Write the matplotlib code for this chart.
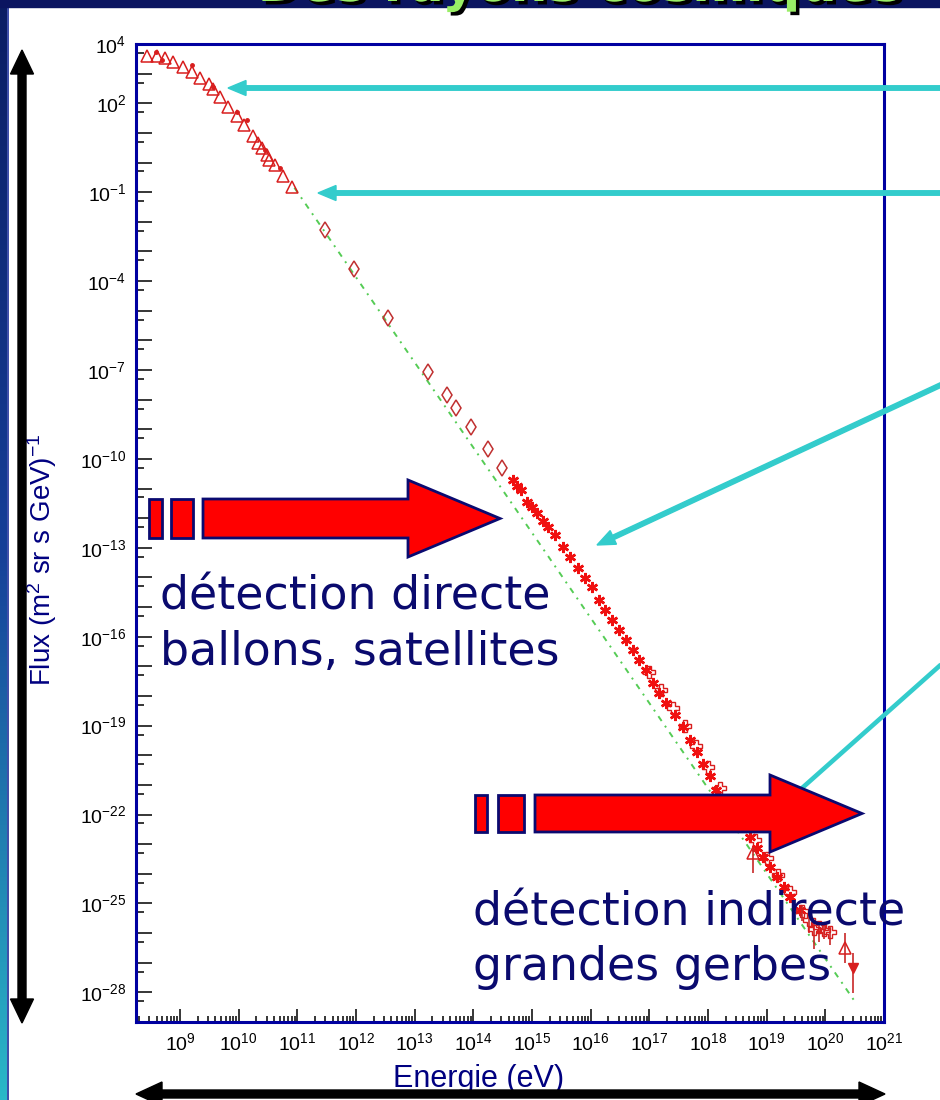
import numpy as np
import matplotlib
matplotlib.use('Agg')
import matplotlib.pyplot as plt
from matplotlib.patches import Polygon, Rectangle
from matplotlib.colors import LinearSegmentedColormap
from matplotlib.ticker import FixedLocator, FuncFormatter, NullFormatter
from matplotlib import patheffects

plt.rcParams['font.family'] = ['Liberation Sans', 'DejaVu Sans']
plt.rcParams['mathtext.fontset'] = 'custom'
plt.rcParams['mathtext.rm'] = 'Liberation Sans'
plt.rcParams['mathtext.it'] = 'Liberation Sans:italic'

# ---- data (log10 values) ----
tri_logE = [8.44, 8.61, 8.75, 8.88, 9.05, 9.21, 9.34, 9.50, 9.57, 9.68, 9.82,
            9.97, 10.09, 10.25, 10.33, 10.40, 10.48, 10.52, 10.62, 10.76, 10.91]
tri_logF = [3.60, 3.60, 3.53, 3.39, 3.22, 3.06, 2.85, 2.65, 2.48, 2.21, 1.87,
            1.57, 1.27, 0.90, 0.66, 0.49, 0.26, 0.09, -0.08, -0.45, -0.82]

dot_logE = [8.59, 8.69, 9.20, 9.56, 9.97, 10.14, 10.45, 10.70]
dot_logF = [3.73, 3.46, 3.29, 2.55, 1.71, 1.44, 0.42, -0.18]

dia_logE = [11.47, 11.96, 12.54, 13.22, 13.55, 13.70, 13.96, 14.25, 14.49]
dia_logF = [-2.28, -3.59, -5.24, -7.07, -7.84, -8.28, -8.92, -9.66, -10.30]

star_logE = [14.67, 14.74, 14.82, 14.91, 15.00, 15.08, 15.18, 15.27, 15.39, 15.52,
             15.64, 15.78, 15.90, 16.02, 16.15, 16.25, 16.36, 16.49, 16.61, 16.72,
             16.83, 16.95, 17.06, 17.17, 17.29, 17.43, 17.57, 17.69, 17.81, 17.92,
             18.03, 18.14, 18.28, 18.42, 18.57, 18.71, 18.83, 18.93, 19.05, 19.17,
             19.29, 19.39, 19.56]
star_logF = [-10.71, -10.91, -11.05, -11.45, -11.62, -11.82, -12.09, -12.30, -12.57, -12.97,
             -13.31, -13.68, -14.02, -14.32, -14.76, -15.10, -15.43, -15.77, -16.11, -16.45,
             -16.78, -17.12, -17.56, -17.90, -18.23, -18.64, -19.04, -19.48, -19.89, -20.29,
             -20.70, -21.17, -21.51, -21.91, -22.38, -22.75, -23.13, -23.43, -23.77, -24.10,
             -24.44, -24.78, -25.22]

cross_logE = [17.0, 17.2, 17.4, 17.6, 17.8, 18.0, 18.2, 18.4, 18.6, 18.8, 19.0, 19.2, 19.4]
cross_logF = [-17.2, -17.8, -18.4, -19.0, -19.7, -20.4, -21.1, -21.7, -22.3, -22.85,
              -23.45, -24.05, -24.6]

hi_logE = [19.60, 19.72, 19.80, 19.90, 19.98, 20.08]
hi_logF = [-25.25, -25.55, -25.85, -25.80, -25.90, -25.95]
hi_lo = [-25.6, -26.0, -26.55, -26.3, -26.2, -26.4]
hi_up = [-25.05, -25.35, -25.6, -25.6, -25.75, -25.8]

trihi_logE = [18.76, 20.33]
trihi_logF = [-23.29, -26.50]
trihi_lo = [-23.97, -27.0]
trihi_up = [-23.1, -25.99]

last_logE = [20.48]
last_logF = [-27.17]
last_lo = [-28.02]
last_up = [-26.67]

fit_logE = [10.95, 20.50]
fit_logF = [-0.85, -28.3]

ylab_exp = [4, 2, -1, -4, -7, -10, -13, -16, -19, -22, -25, -28]
xlab_exp = list(range(9, 22))

W, H = 940, 1100
NAVY = '#0a0a6e'
FRAME = '#0000a0'
RED = '#d81e1e'

fig = plt.figure(figsize=(W / 100, H / 100), dpi=100)
fig.patch.set_facecolor('white')

ax = fig.add_axes([136 / W, 78 / H, 748 / W, 978 / H])
ax.set_xscale('log')
ax.set_yscale('log')
ax.set_xlim(10 ** 8.25, 1e21)
ax.set_ylim(1e-29, 1e4)


def tolin(v):
    return 10 ** np.array(v, dtype=float)


def errs(f, lo, up):
    F = tolin(f)
    return [F - tolin(lo), tolin(up) - F]


ax.plot(tolin(fit_logE), tolin(fit_logF), color='#55cc55', lw=1.4,
        dashes=(3, 3, 1, 3), zorder=1)
ax.plot(tolin(tri_logE), tolin(tri_logF), ls='none', marker='^', mfc='none',
        mec=RED, ms=8, mew=1.1, zorder=3)
ax.plot(tolin(dot_logE), tolin(dot_logF), ls='none', marker='o', color=RED, ms=2.5, zorder=3)
ax.plot(tolin(dia_logE), tolin(dia_logF), ls='none', marker='d', mfc='none',
        mec='#c03030', ms=8, mew=1.1, zorder=3)
ax.plot(tolin(cross_logE), tolin(cross_logF), ls='none', marker='P', mfc='none',
        mec=RED, ms=8, mew=1.0, zorder=3)
ax.plot(tolin(star_logE), tolin(star_logF), ls='none', marker=(6, 2, 0),
        color='#f01010', ms=8, mew=1.8, zorder=4)
ax.errorbar(tolin(hi_logE), tolin(hi_logF), yerr=errs(hi_logF, hi_lo, hi_up),
            ls='none', marker='P', mfc='none', mec=RED, ms=8, mew=1.0,
            ecolor='#c82828', elinewidth=1.2, capsize=0, zorder=4)
ax.errorbar(tolin(trihi_logE), tolin(trihi_logF), yerr=errs(trihi_logF, trihi_lo, trihi_up),
            ls='none', marker='^', mfc='none', mec=RED, ms=8, mew=1.1,
            ecolor='#c82828', elinewidth=1.2, capsize=0, zorder=4)
ax.errorbar(tolin(last_logE), tolin(last_logF), yerr=errs(last_logF, last_lo, last_up),
            ls='none', marker='v', color=RED, ms=7,
            ecolor='#c82828', elinewidth=1.2, capsize=0, zorder=4)

# ticks, ROOT like
ax.yaxis.set_major_locator(FixedLocator(10.0 ** np.arange(-29, 5)))
ax.yaxis.set_minor_locator(FixedLocator(5 * 10.0 ** np.arange(-29, 4)))
ax.yaxis.set_major_formatter(FuncFormatter(
    lambda v, p: r'$10^{%d}$' % round(np.log10(v)) if round(np.log10(v)) in ylab_exp else ''))
ax.yaxis.set_minor_formatter(NullFormatter())
ax.xaxis.set_major_locator(FixedLocator(10.0 ** np.arange(8, 22)))
ax.xaxis.set_minor_locator(FixedLocator([m * 10.0 ** k for k in range(8, 21) for m in range(2, 10)]))
ax.xaxis.set_major_formatter(FuncFormatter(
    lambda v, p: r'$10^{%d}$' % round(np.log10(v)) if round(np.log10(v)) in xlab_exp else ''))
ax.xaxis.set_minor_formatter(NullFormatter())
ax.tick_params(which='both', direction='in', top=False, right=False, width=1.1,
               color='black', labelsize=14, labelcolor='black')
ax.tick_params(axis='y', which='major', length=11.5, pad=7)
ax.tick_params(axis='y', which='minor', length=5.8)
ax.tick_params(axis='x', which='major', length=9.4, pad=7)
ax.tick_params(axis='x', which='minor', length=4.3)
for s in ax.spines.values():
    s.set_color(FRAME)
    s.set_linewidth(2.2)

fig.text(479 / W, 1 - 1087 / H, 'Energie (eV)', color='#000080', fontsize=22,
         ha='center', va='baseline')
fig.text(42 / W, 1 - 560 / H, r'Flux (m$^2$ sr s GeV)$^{-1}$', color='#000080',
         fontsize=20, rotation=90, ha='center', va='center')

# ---- slide decorations in pixel coordinates ----
ov = fig.add_axes([0, 0, 1, 1], zorder=10)
ov.patch.set_alpha(0)
strip = LinearSegmentedColormap.from_list('strip', ['#0b1d63', '#163f98', '#2ab8c8'])
ov.imshow(np.linspace(0, 1, 256).reshape(-1, 1), extent=(0, 7, 1100, 0), cmap=strip,
          aspect='auto', zorder=1)
ov.set_xlim(0, W)
ov.set_ylim(H, 0)
ov.axis('off')
ov.plot([7.5, 7.5], [0, H], color='#1a2e9a', lw=1.2, zorder=2)
ov.add_patch(Rectangle((0, 0), W, 7, color='#0b1560', zorder=2))

# slide title, mostly above the visible area
ov.text(580, 1, 'Des rayons cosmiques', ha='center', va='baseline', fontsize=37,
        fontweight='bold', family='DejaVu Sans', color='#99ee66', zorder=3,
        path_effects=[patheffects.withSimplePatchShadow(offset=(2.5, -2.5),
                                                         shadow_rgbFace='black', alpha=1)])


def block_arrow(x0, y0, x1, y1, shaft, head_w, head_l, both=False):
    p0 = np.array([x0, y0], float)
    p1 = np.array([x1, y1], float)
    u = (p1 - p0) / np.hypot(*(p1 - p0))
    n = np.array([-u[1], u[0]])
    b1 = p1 - u * head_l
    pts = []
    if both:
        b0 = p0 + u * head_l
        pts += [p0, b0 + n * head_w / 2, b0 + n * shaft / 2]
    else:
        pts += [p0 + n * shaft / 2]
    pts += [b1 + n * shaft / 2, b1 + n * head_w / 2, p1, b1 - n * head_w / 2, b1 - n * shaft / 2]
    if both:
        pts += [b0 - n * shaft / 2, b0 - n * head_w / 2]
    else:
        pts += [p0 - n * shaft / 2]
    return np.array(pts)


# black double arrows
ov.add_patch(Polygon(block_arrow(22, 50, 22, 1023, 8, 23, 24, both=True), color='black', zorder=4))
ov.add_patch(Polygon(block_arrow(136, 1094, 885, 1094, 8, 24, 26, both=True), color='black', zorder=4))

# cyan pointers
CYAN = '#33cccc'
for (xa, ya, xb, yb) in [(945, 88, 228, 88), (945, 193, 318, 193), (945, 383, 597, 545)]:
    ov.add_patch(Polygon(block_arrow(xa, ya, xb, yb, 4.5, 15, 18), color=CYAN, zorder=5))
ov.plot([945, 792], [661, 797], color=CYAN, lw=3.3, solid_capstyle='butt', zorder=5)

# red block arrows
for (x0, x1, yc, sh) in [(203, 500, 518.5, 39), (535, 862, 813.5, 37)]:
    ov.add_patch(Polygon(block_arrow(x0, yc, x1, yc, sh, 77, 92), facecolor='#ff0000',
                         edgecolor='#0a0a70', lw=2, joinstyle='miter', zorder=6))
for (xa, xb, yc, sh) in [(149, 162, 518.5, 39), (171, 193, 518.5, 39),
                         (475, 487, 813.5, 37), (498, 524, 813.5, 37)]:
    ov.add_patch(Rectangle((xa, yc - sh / 2), xb - xa, sh, facecolor='#ff0000',
                           edgecolor='#0a0a70', lw=2, zorder=6))

tkw = dict(family='DejaVu Sans', fontsize=33, color=NAVY, va='baseline', ha='left', zorder=7)
ov.text(160, 610, 'détection directe', **tkw)
ov.text(160, 665, 'ballons, satellites', **tkw)
ov.text(473, 926, 'détection indirecte', **tkw)
ov.text(473, 980, 'grandes gerbes', **tkw)

fig.savefig('out.png', dpi=100)
